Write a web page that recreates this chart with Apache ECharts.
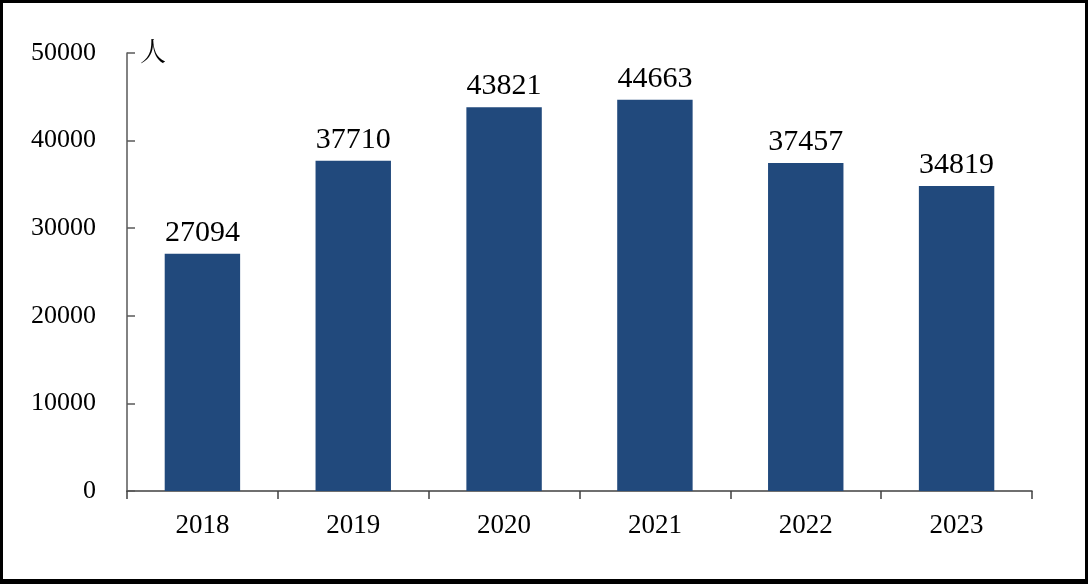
<!DOCTYPE html>
<html>
<head>
<meta charset="utf-8">
<script src="https://cdn.jsdelivr.net/npm/echarts@6/dist/echarts.min.js"></script>
<style>
html,body{margin:0;padding:0;background:#fff;}
#wrap{position:relative;width:1088px;height:584px;overflow:hidden;}
#chart{position:absolute;left:0;top:0;width:1088px;height:584px;}
#frame{position:absolute;left:0;top:0;width:1088px;height:584px;box-sizing:border-box;border-style:solid;border-color:#000;border-width:3px 3px 5px 3px;pointer-events:none;}
</style>
</head>
<body>
<div id="wrap"><div id="chart"></div><div id="frame"></div></div>
<script>
const categories = ['2018', '2019', '2020', '2021', '2022', '2023'];
const values = [27094, 37710, 43821, 44663, 37457, 34819];
const yTicks = [0, 10000, 20000, 30000, 40000, 50000];
const unitLabel = '人';

const chart = echarts.init(document.getElementById('chart'), null, {renderer: 'canvas'});
const serif = '"Liberation Serif", "Times New Roman", serif';
chart.setOption({
  animation: false,
  backgroundColor: '#fff',
  grid: {left: 127, right: 56, top: 53, bottom: 93, containLabel: false},
  xAxis: {
    type: 'category',
    data: categories,
    boundaryGap: true,
    axisLine: {lineStyle: {color: '#404040', width: 1.5}},
    axisTick: {show: true, alignWithLabel: false, inside: false, length: 8, lineStyle: {color: '#404040', width: 1.5}},
    axisLabel: {color: '#000', fontFamily: serif, fontSize: 27, margin: 21}
  },
  yAxis: {
    type: 'value',
    min: yTicks[0],
    max: yTicks[yTicks.length - 1],
    interval: yTicks[1] - yTicks[0],
    splitLine: {show: false},
    axisLine: {show: true, lineStyle: {color: '#595959', width: 1.5}},
    axisTick: {show: true, inside: true, length: 8, lineStyle: {color: '#595959', width: 1.5}},
    axisLabel: {color: '#000', fontFamily: serif, fontSize: 26, margin: 31, formatter: function (v) { return String(v); }}
  },
  graphic: [{
    type: 'text',
    left: 140,
    top: 38,
    style: {text: unitLabel, fontSize: 26, fontFamily: '"Noto Serif CJK SC", "Noto Sans CJK SC", serif', fill: '#000'}
  }],
  series: [{
    type: 'bar',
    data: values,
    barWidth: '50%',
    itemStyle: {color: '#21497c'},
    label: {show: true, position: 'top', distance: 6, color: '#000', fontFamily: serif, fontSize: 30}
  }]
});
</script>
</body>
</html>
